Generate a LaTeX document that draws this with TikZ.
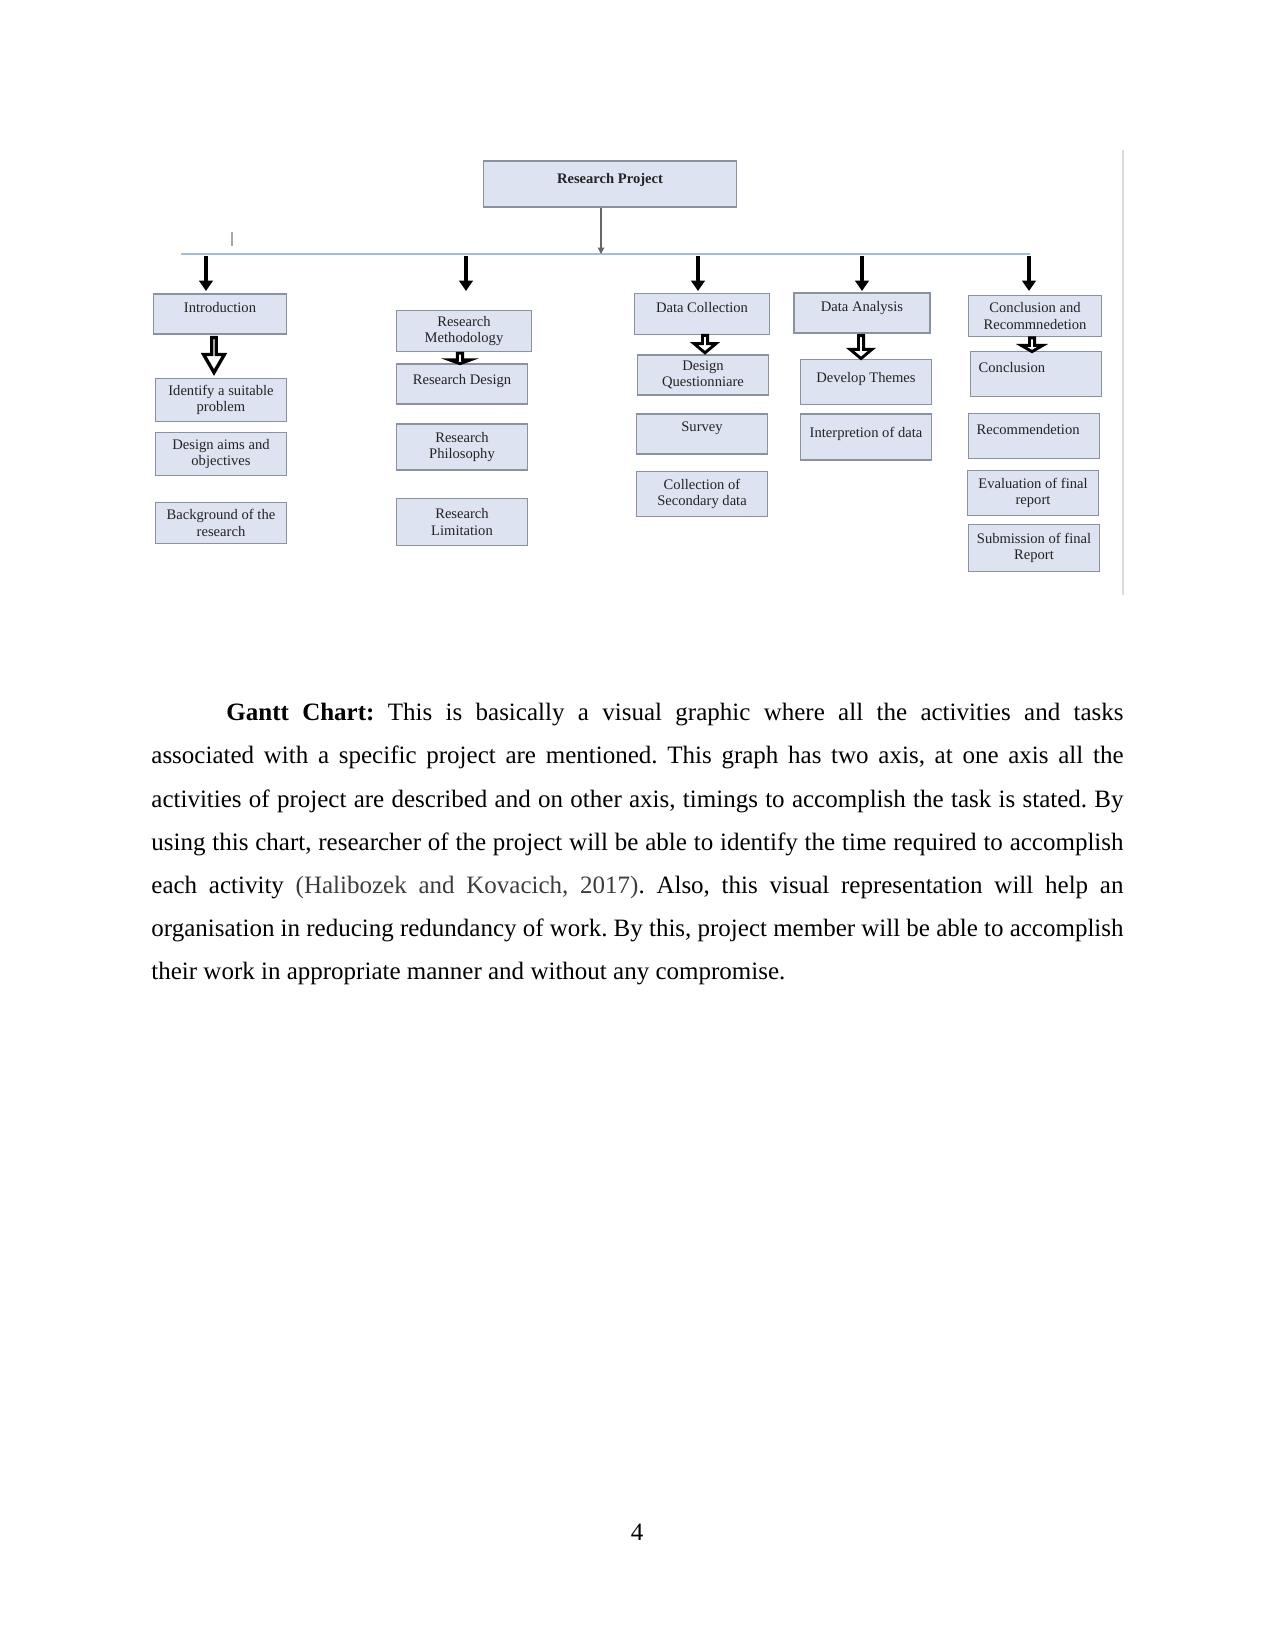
\documentclass[tikz,border=0pt]{standalone}
\usepackage{fontspec}
\setmainfont{Liberation Serif}
\usepackage{xcolor}
\usetikzlibrary{arrows.meta,shapes.arrows}

\definecolor{boxfill}{RGB}{221,227,240}
\definecolor{boxline}{RGB}{138,146,160}
\definecolor{boxtext}{RGB}{35,35,35}
\definecolor{busline}{RGB}{160,190,215}
\definecolor{sideline}{RGB}{218,218,218}
\definecolor{cite}{RGB}{60,60,60}

\begin{document}
\begin{tikzpicture}[x=0.48pt, y=-0.48pt,
    box/.style={draw=boxline, fill=boxfill, line width=0.6pt, text=boxtext,
      font=\fontsize{7}{8}\selectfont, align=center, inner sep=1pt,
      minimum width=63pt, minimum height=20.5pt},
    upper/.style={text depth=#1}, upper/.default=6pt,
    leftbox/.style={text width=55pt, align=left, inner xsep=4pt},
    bigarrow/.style={-{Triangle[length=5pt,width=6.5pt]}, line width=2.2pt},
    hollow/.style={single arrow, draw, fill=white, line width=1.4pt, rotate=-90,
      inner sep=0pt, single arrow head indent=0pt, single arrow tip angle=100}]

    \useasboundingbox (0,0) rectangle (1275,1651);

    % Top of the tree
    \node[box, minimum width=121.4pt, minimum height=22pt, upper=5pt,
      font=\fontsize{7}{8}\selectfont\bfseries] (project) at (610,184) {Research Project};

    \coordinate (busL) at (181,254);
    \coordinate (busR) at (1030,254);
    \coordinate (pj) at (601,254);
    \draw[busline, line width=0.8pt] (busL) -- (busR);
    \draw[gray!80!black, line width=0.5pt, -{Triangle[length=3pt,width=3pt]}] (project.south -| pj) -- (pj);

    % small stray tick
    \coordinate (tk) at (232,232);
    \draw[gray!70, line width=0.8pt] (tk) -- ++(0,14);

    % Column boxes
    \node[box, minimum width=63.8pt, minimum height=19.2pt, upper] (intro) at (220,314) {Introduction};
    \node[box] (ident) at (221,400) {Identify a suitable\\problem};
    \node[box] (aims) at (221,454) {Design aims and\\objectives};
    \node[box, minimum height=19.7pt] (backg) at (221,523) {Background of the\\research};

    \node[box, minimum width=64.8pt, minimum height=19.7pt] (method) at (464,331) {Research\\Methodology};
    \node[box, minimum height=19.2pt, upper=4pt] (design) at (462,384) {Research Design};
    \node[box, minimum height=22pt] (philo) at (462,447) {Research\\Philosophy};
    \node[box, minimum height=22.6pt] (limit) at (462,522) {Research\\Limitation};

    \node[box, minimum width=64.8pt, minimum height=19.7pt, upper] (datacol) at (702,314) {Data Collection};
    \node[box, minimum height=19.2pt] (quest) at (703,375) {Design\\Questionniare};
    \node[box, minimum height=19.2pt, upper=7pt] (survey) at (702,434) {Survey};
    \node[box, minimum height=21.6pt] (second) at (702,494) {Collection of\\Secondary data};

    \node[box, minimum width=65.3pt, minimum height=19.2pt, upper] (analysis) at (862,313) {Data Analysis};
    \node[box, minimum height=21.6pt, upper=4pt] (themes) at (866,382) {Develop Themes};
    \node[box, minimum height=22pt, upper=4pt] (interp) at (866,437) {Interpretion of data};

    \node[box, minimum width=63.8pt, minimum height=19.7pt] (concrec) at (1035,316) {Conclusion and\\Recommnedetion};
    \node[box, leftbox, minimum height=21.6pt, upper] (concl) at (1036,374) {Conclusion};
    \node[box, leftbox, minimum height=21.6pt, upper] (recom) at (1034,436) {Recommendetion};
    \node[box, minimum height=21.6pt] (evalu) at (1033,493) {Evaluation of final\\report};
    \node[box, minimum height=22.6pt] (submit) at (1034,548) {Submission of final\\Report};

    % Arrows off the bus line
    \coordinate (b1) at (206,256);
    \coordinate (b2) at (466,256);
    \coordinate (b3) at (698,256);
    \coordinate (b4) at (862,256);
    \coordinate (b5) at (1029,256);
    \foreach \b in {b1,b2,b3,b4,b5}
        \draw[bigarrow] (\b) -- ++(0,35);

    % hollow arrows under the heads
    \node[hollow, minimum height=16.8pt, minimum width=10pt, single arrow head extend=2.8pt,
      single arrow tip angle=60, line width=1.6pt] (ha1) at (214,353) {};
    \node[hollow, minimum height=5pt, minimum width=10.5pt, single arrow head extend=2.2pt,
      single arrow tip angle=140] (ha2) at (460,358) {};
    \node[hollow, minimum height=8.4pt, minimum width=10.5pt, single arrow head extend=2.3pt] (ha3) at (705,343) {};
    \node[hollow, minimum height=11pt, minimum width=10.5pt, single arrow head extend=2.3pt] (ha4) at (861,346) {};
    \node[hollow, minimum height=6.6pt, minimum width=10.5pt, single arrow head extend=2.3pt,
      single arrow tip angle=120] (ha5) at (1032,344) {};

    % right edge of the picture
    \coordinate (sT) at (1123,150);
    \coordinate (sB) at (1123,595);
    \draw[sideline, line width=1pt] (sT) -- (sB);

    % Body text
    \node[anchor=north west, inner sep=0pt, text width=466.6pt, align=justify,
      font=\fontsize{12}{20.7}\selectfont] (para) at (151,703)
      {\frenchspacing\tolerance=9999\hyphenpenalty=10000\noindent\hspace*{36pt}\textbf{Gantt Chart:} This is basically a visual graphic where all the activities and tasks\linebreak
      associated with a specific project are mentioned. This graph has two axis, at one axis all the\linebreak
      activities of project are described and on other axis, timings to accomplish the task is stated. By\linebreak
      using this chart, researcher of the project will be able to identify the time required to accomplish\linebreak
      each activity {\color{cite}(Halibozek and Kovacich, 2017)}. Also, this visual representation will help an\linebreak
      organisation in reducing redundancy of work. By this, project member will be able to accomplish\linebreak
      their work in appropriate manner and without any compromise.};

    \node[anchor=base, font=\fontsize{12}{14}\selectfont] (pgnum) at (637,1540) {4};

\end{tikzpicture}
\end{document}
